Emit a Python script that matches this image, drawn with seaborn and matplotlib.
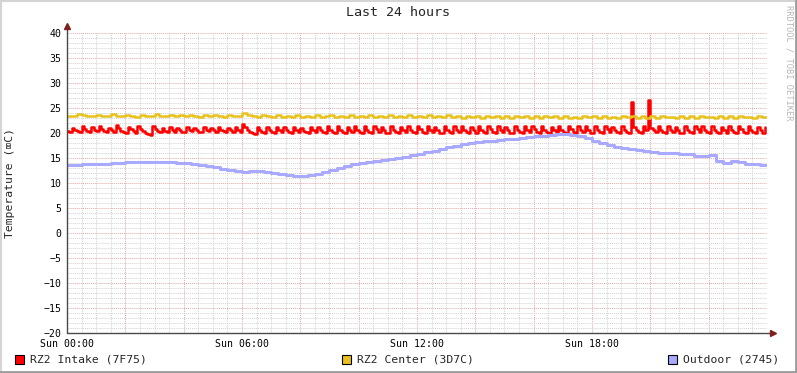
import numpy as np
import pandas as pd
import matplotlib
matplotlib.use("Agg")
import matplotlib.pyplot as plt
from matplotlib.patches import Rectangle
from matplotlib.lines import Line2D
import seaborn as sns

# RZ2 Intake (7F75), 5 min samples from Sun 00:00
intake = [
    20.4, 20.3, 21.1, 20.7, 20.4, 20.3, 21.4, 20.8, 20.5, 20.3, 21.2, 20.6,
    20.4, 21.4, 20.8, 20.4, 20.2, 21.0, 20.6, 20.3, 21.6, 21.0, 20.5, 20.2,
    20.1, 21.3, 20.8, 20.4, 20.1, 21.5, 20.9, 20.4, 20.0, 19.8, 19.6, 21.5,
    20.9, 20.4, 20.2, 21.0, 20.5, 20.3, 21.2, 20.6, 20.3, 21.1, 20.6, 20.3,
    20.2, 21.2, 20.7, 20.4, 21.1, 20.6, 20.3, 20.2, 21.2, 20.7, 20.4, 21.1,
    20.6, 20.3, 21.3, 20.7, 20.4, 20.2, 21.1, 20.6, 20.3, 21.2, 20.6, 20.2,
    21.8, 21.3, 20.7, 20.3, 20.0, 19.9, 21.2, 20.6, 20.3, 20.1, 21.2, 20.6,
    20.3, 20.1, 21.3, 20.7, 20.3, 21.2, 20.6, 20.2, 20.0, 21.3, 20.7, 20.3,
    21.1, 20.5, 20.2, 20.0, 21.3, 20.6, 20.2, 21.2, 20.6, 20.2, 20.0, 21.4,
    20.7, 20.2, 20.0, 21.4, 20.7, 20.2, 20.0, 21.3, 20.6, 20.2, 21.4, 20.7,
    20.2, 20.0, 21.4, 20.7, 20.2, 20.0, 21.5, 20.8, 20.2, 21.3, 20.6, 20.1,
    20.0, 21.4, 20.7, 20.2, 20.0, 21.3, 20.7, 20.2, 21.4, 20.7, 20.2, 20.0,
    21.5, 20.8, 20.2, 20.0, 21.4, 20.7, 20.2, 21.3, 20.6, 20.1, 20.0, 21.4,
    20.7, 20.2, 20.0, 21.5, 20.7, 20.2, 21.4, 20.7, 20.2, 20.0, 21.3, 20.6,
    20.1, 21.4, 20.7, 20.2, 20.0, 21.5, 20.8, 20.2, 20.0, 21.4, 20.7, 20.2,
    21.3, 20.6, 20.1, 20.0, 21.4, 20.7, 20.2, 20.0, 21.4, 20.7, 20.2, 21.5,
    20.8, 20.2, 20.0, 21.4, 20.7, 20.2, 20.0, 21.3, 20.7, 20.2, 21.4, 20.7,
    20.2, 20.0, 21.5, 20.8, 20.2, 20.0, 21.4, 20.7, 20.2, 21.4, 20.6, 20.1,
    20.0, 21.4, 20.7, 20.2, 20.0, 21.5, 20.8, 20.2, 21.3, 20.7, 20.2, 20.0,
    21.4, 20.7, 20.2, 20.0, 26.3, 21.2, 20.6, 20.2, 20.0, 21.4, 20.7, 26.6,
    21.1, 20.7, 20.2, 21.4, 20.7, 20.2, 20.0, 21.4, 20.7, 20.2, 21.3, 20.6,
    20.1, 20.0, 21.4, 20.7, 20.2, 20.0, 21.5, 20.8, 20.2, 21.4, 20.7, 20.2,
    20.0, 21.4, 20.7, 20.2, 20.0, 21.3, 20.6, 20.1, 21.4, 20.7, 20.2, 20.0,
    21.5, 20.8, 20.2, 20.0, 21.4, 20.7, 20.2, 20.0, 21.3, 20.6, 20.1, 21.3,
]

# RZ2 Center (3D7C), 10 min samples
center = [
    23.4, 23.5, 23.9, 23.6, 23.4, 23.5,
    23.7, 23.4, 23.5, 23.8, 23.5, 23.4,
    23.6, 23.4, 23.3, 23.7, 23.4, 23.5,
    23.8, 23.5, 23.4, 23.7, 23.4, 23.6,
    23.4, 23.7, 23.4, 23.3, 23.6, 23.4,
    23.7, 23.4, 23.3, 23.6, 23.4, 23.5,
    24.0, 23.7, 23.4, 23.3, 23.6, 23.4,
    23.3, 23.6, 23.3, 23.5, 23.3, 23.6,
    23.3, 23.5, 23.2, 23.6, 23.3, 23.4,
    23.6, 23.3, 23.5, 23.2, 23.6, 23.3,
    23.5, 23.2, 23.6, 23.3, 23.5, 23.2,
    23.6, 23.3, 23.4, 23.2, 23.6, 23.3,
    23.5, 23.2, 23.6, 23.2, 23.4, 23.2,
    23.6, 23.2, 23.4, 23.1, 23.5, 23.2,
    23.4, 23.1, 23.5, 23.2, 23.4, 23.1,
    23.5, 23.1, 23.4, 23.2, 23.5, 23.1,
    23.4, 23.1, 23.5, 23.2, 23.4, 23.1,
    23.5, 23.1, 23.3, 23.1, 23.5, 23.2,
    23.4, 23.1, 23.5, 23.1, 23.3, 23.1,
    23.5, 23.2, 23.4, 23.1, 23.5, 23.1,
    23.4, 23.1, 23.5, 23.2, 23.3, 23.1,
    23.5, 23.1, 23.4, 23.1, 23.5, 23.2,
    23.3, 23.1, 23.5, 23.1, 23.4, 23.1,
    23.5, 23.2, 23.3, 23.1, 23.5, 23.3,
    23.3,
]

# Outdoor (2745), 15 min samples
outdoor = [
    13.7, 13.7, 13.8, 13.8, 13.9, 13.9, 14.0, 14.1,
    14.2, 14.3, 14.3, 14.2, 14.3, 14.3, 14.2, 14.1,
    14.0, 13.9, 13.7, 13.5, 13.2, 12.9, 12.7, 12.5,
    12.3, 12.4, 12.5, 12.3, 12.0, 11.8, 11.6, 11.4,
    11.5, 11.7, 11.9, 12.2, 12.7, 13.1, 13.5, 13.8,
    14.0, 14.2, 14.4, 14.6, 14.8, 15.0, 15.3, 15.6,
    15.9, 16.2, 16.5, 16.8, 17.2, 17.5, 17.8, 18.1,
    18.3, 18.4, 18.5, 18.7, 18.8, 18.9, 19.1, 19.2,
    19.4, 19.5, 19.6, 19.8, 19.8, 19.7, 19.5, 19.0,
    18.5, 18.1, 17.7, 17.3, 17.0, 16.8, 16.6, 16.4,
    16.2, 16.1, 16.0, 16.0, 15.9, 15.9, 15.5, 15.4,
    15.7, 14.4, 14.1, 14.5, 14.2, 13.9, 13.8, 13.7,
    13.7,
]

names = ["RZ2 Intake (7F75)", "RZ2 Center (3D7C)", "Outdoor (2745)"]
colors = ["#FF0000", "#E8C21C", "#A9A9FF"]
step_minutes = [5, 10, 15]
tick_hours = [0, 6, 12, 18]
tick_labels = ["Sun 00:00", "Sun 06:00", "Sun 12:00", "Sun 18:00"]

frames = []
for name, vals, step in zip(names, [intake, center, outdoor], step_minutes):
    frames.append(pd.DataFrame({
        "hours": np.arange(len(vals)) * step / 60.0,
        "temp": vals,
        "series": name,
    }))
df = pd.concat(frames, ignore_index=True)

sns.set_style("white")
plt.rcParams["font.family"] = ["DejaVu Sans Mono", "DejaVu Sans"]

W, H = 797, 373
fig = plt.figure(figsize=(W / 100, H / 100), dpi=100)
fig.patch.set_facecolor("white")
ax = fig.add_axes([67 / W, (H - 333) / H, 700 / W, 300 / H])
ax.set_facecolor("white")

# grid drawn by hand to get the rrdtool look
for h in np.arange(0, 24.01, 0.5):
    major = abs(h / 2 - round(h / 2)) < 1e-6
    ax.axvline(h, color="#E3A8A8" if major else "#D2D2D2", lw=0.7,
               ls=(0, (1, 1)), zorder=1)
for v in range(-20, 41):
    major = v % 5 == 0
    ax.axhline(v, color="#E3A8A8" if major else "#D2D2D2", lw=0.7,
               ls=(0, (1, 1)), zorder=1)

for name, c in zip(names, colors):
    sub = df[df["series"] == name]
    sns.lineplot(data=sub, x="hours", y="temp", ax=ax, color=c,
                 lw=2.2 if name.startswith("Outdoor") else 1.8,
                 drawstyle="steps-post", estimator=None, legend=False,
                 zorder=3)

ax.set_xlim(0, 24)
ax.set_ylim(-20, 40)
for s in ax.spines.values():
    s.set_visible(False)

# axes with arrows
ax.plot([0, 0], [-20, 41.3], color="#4A4A4A", lw=1.0, clip_on=False, zorder=4)
ax.plot([0, 24.15], [-20, -20], color="#4A4A4A", lw=1.0, clip_on=False, zorder=4)
ax.plot([0], [41.4], marker="^", ms=4, color="#7F2020", clip_on=False, zorder=5)
ax.plot([24.2], [-20], marker=">", ms=4, color="#7F2020", clip_on=False, zorder=5)

ax.set_xticks(tick_hours)
ax.set_xticklabels(tick_labels)
ax.set_yticks(range(-20, 41, 5))
ax.tick_params(axis="both", length=2, width=0.8, color="#4A4A4A",
               direction="inout", labelsize=7.1, pad=3, labelcolor="black")
ax.set_xlabel("")
ax.set_ylabel("")

fig.text(398 / W, 1 - 13 / H, "Last 24 hours", ha="center", va="center",
         fontsize=9.6)
fig.text(10 / W, 1 - 183 / H, "Temperature (\u2327C)", rotation=90,
         ha="center", va="center", fontsize=8.2)
fig.text(789 / W, 1 - 5 / H, "RRDTOOL / TOBI OETIKER", rotation=270,
         ha="center", va="top", fontsize=6.3, color="#B8B8B8")

# legend row
legend_x = [15, 342, 668]
for lx, name, c in zip(legend_x, names, colors):
    fig.add_artist(Rectangle((lx / W, (H - 364) / H), 9 / W, 9 / H,
                             transform=fig.transFigure, facecolor=c,
                             edgecolor="black", lw=0.8))
    fig.text((lx + 15) / W, 1 - 359 / H, name, ha="left", va="center",
             fontsize=8.2)

# 3d frame of the canvas
fig.add_artist(Line2D([0.5 / W, 0.5 / W], [0, 1], color="#D4D4D4", lw=1.5,
                      transform=fig.transFigure))
fig.add_artist(Line2D([0, 1], [1 - 0.5 / H, 1 - 0.5 / H], color="#D4D4D4", lw=1.5,
                      transform=fig.transFigure))
fig.add_artist(Line2D([1 - 1 / W, 1 - 1 / W], [0, 1], color="#9C9C9C", lw=2,
                      transform=fig.transFigure))
fig.add_artist(Line2D([0, 1], [1 / H, 1 / H], color="#9C9C9C", lw=2,
                      transform=fig.transFigure))

fig.savefig("out.png", dpi=100)
